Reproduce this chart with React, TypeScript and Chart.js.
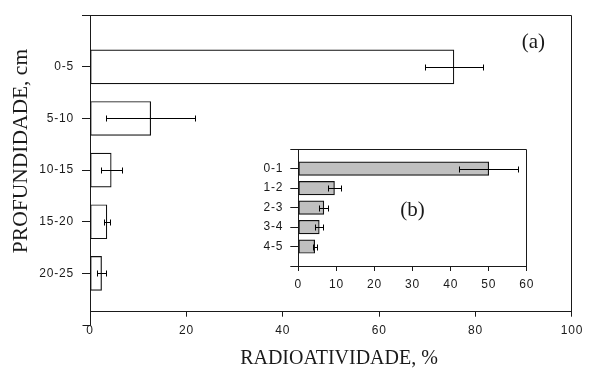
import React, { useEffect, useRef } from 'react';
import { Chart, registerables } from 'chart.js';

Chart.register(...registerables);

// ---- Data (main chart a) ----
const depthLabels = ['0-5', '5-10', '10-15', '15-20', '20-25'];
const depthValues = [75.5, 12.6, 4.4, 3.5, 2.4];
const depthErrors = [6.1, 9.2, 2.2, 0.65, 0.9];
const mainXMin = 0;
const mainXMax = 100;
const mainXStep = 20;

// ---- Data (inset b) ----
const insetLabels = ['0-1', '1-2', '2-3', '3-4', '4-5'];
const insetValues = [50, 9.5, 6.7, 5.5, 4.3];
const insetErrors = [7.8, 1.6, 1.2, 1.1, 0.55];
const insetXMin = 0;
const insetXMax = 60;
const insetXStep = 10;

const xTitle = 'RADIOATIVIDADE, %';
const yTitle = 'PROFUNDIDADE, cm';

const TICK_FONT = { family: '"Liberation Sans", Arial, sans-serif', size: 12 };
const SERIF = '"Liberation Serif", "Times New Roman", serif';
const INK = '#1a1a1a';

const spacing = {
  id: 'spacing',
  beforeDraw(chart: any) {
    (chart.ctx as any).letterSpacing = '0.8px';
  },
};

function errorBars(errors: number[]) {
  return {
    id: 'errorBars',
    afterDatasetsDraw(chart: any) {
      const meta = chart.getDatasetMeta(0);
      const xs = chart.scales.x;
      const data = chart.data.datasets[0].data as any[];
      const ctx = chart.ctx;
      ctx.save();
      ctx.strokeStyle = '#000';
      ctx.lineWidth = 1;
      meta.data.forEach((el: any, i: number) => {
        const v = data[i].x;
        const e = errors[i];
        const y = Math.round(el.y) + 0.5;
        const x1 = Math.round(xs.getPixelForValue(v - e)) + 0.5;
        const x2 = Math.round(xs.getPixelForValue(v + e)) + 0.5;
        ctx.beginPath();
        ctx.moveTo(x1, y);
        ctx.lineTo(x2, y);
        ctx.moveTo(x1, y - 3);
        ctx.lineTo(x1, y + 3);
        ctx.moveTo(x2, y - 3);
        ctx.lineTo(x2, y + 3);
        ctx.stroke();
      });
      ctx.restore();
    },
  };
}

function frame(extendTo: number | null, tickLen: number) {
  return {
    id: 'frame',
    afterDraw(chart: any) {
      const { ctx, chartArea } = chart;
      const ys = chart.scales.y;
      ctx.save();
      ctx.strokeStyle = INK;
      ctx.lineWidth = 1;
      const L = Math.round(chartArea.left) + 0.5;
      const R = Math.round(chartArea.right) - 0.5;
      const T = Math.round(chartArea.top) + 0.5;
      const B = Math.round(chartArea.bottom);
      ctx.beginPath();
      ctx.moveTo(L, T);
      ctx.lineTo(R, T);
      ctx.lineTo(R, B);
      if (extendTo !== null) {
        const yb = Math.round(ys.getPixelForValue(extendTo)) + 0.5;
        ctx.moveTo(L, B);
        ctx.lineTo(L, yb);
        ctx.moveTo(L - tickLen, yb);
        ctx.lineTo(L, yb);
      }
      ctx.stroke();
      ctx.restore();
    },
  };
}

function textLayer(label: string, lx: number, ly: number, withTitles: boolean) {
  return {
    id: 'textLayer',
    afterDraw(chart: any) {
      const { ctx } = chart;
      const xs = chart.scales.x;
      const ys = chart.scales.y;
      ctx.save();
      (ctx as any).letterSpacing = '0px';
      ctx.fillStyle = INK;
      ctx.textAlign = 'center';
      ctx.textBaseline = 'middle';
      ctx.font = `21px ${SERIF}`;
      ctx.fillText(label, xs.getPixelForValue(lx), ys.getPixelForValue(ly));
      if (withTitles) {
        ctx.font = `20px ${SERIF}`;
        ctx.fillText(xTitle, 339, 359);
        ctx.translate(21, 151);
        ctx.rotate(-Math.PI / 2);
        ctx.font = `21.5px ${SERIF}`;
        ctx.fillText(yTitle, 0, 0);
      }
      ctx.restore();
    },
  };
}

function makeConfig(opts: {
  labels: string[];
  values: number[];
  errors: number[];
  xMin: number;
  xMax: number;
  xStep: number;
  yMax: number;
  fill: string;
  thickness: number;
  yWidth: number;
  xHeight: number;
  padding: any;
  yTickPad: number;
  xTickPad: number;
  extendTo: number | null;
  label: string;
  lx: number;
  ly: number;
  titles: boolean;
}): any {
  return {
    type: 'bar',
    data: {
      datasets: [
        {
          data: opts.values.map((v, i) => ({ x: v, y: i + 1 })),
          backgroundColor: opts.fill,
          borderColor: '#111',
          borderWidth: 1.2,
          borderSkipped: false,
          barThickness: opts.thickness,
        },
      ],
    },
    options: {
      indexAxis: 'y',
      animation: false,
      responsive: false,
      devicePixelRatio: 1,
      layout: { padding: opts.padding },
      plugins: { legend: { display: false }, tooltip: { enabled: false } },
      scales: {
        x: {
          type: 'linear',
          min: opts.xMin,
          max: opts.xMax,
          position: 'bottom',
          offset: false,
          ticks: { stepSize: opts.xStep, color: INK, font: TICK_FONT, padding: opts.xTickPad, maxRotation: 0, autoSkip: false },
          grid: { drawOnChartArea: false, drawTicks: true, tickLength: 5, color: INK, lineWidth: 1, offset: false },
          border: { display: true, color: INK, width: 1 },
          afterFit: (s: any) => {
            s.height = opts.xHeight;
          },
        },
        y: {
          type: 'linear',
          min: 0,
          max: opts.yMax,
          reverse: true,
          offset: false,
          ticks: {
            stepSize: 1,
            includeBounds: false,
            autoSkip: false,
            color: INK,
            font: TICK_FONT,
            padding: opts.yTickPad,
            callback: (v: number) => opts.labels[v - 1] ?? '',
          },
          grid: { drawOnChartArea: false, drawTicks: true, tickLength: 8, color: INK, lineWidth: 1, offset: false },
          border: { display: true, color: INK, width: 1 },
          afterFit: (s: any) => {
            s.width = opts.yWidth;
          },
        },
      },
    },
    plugins: [spacing, errorBars(opts.errors), frame(opts.extendTo, 8), textLayer(opts.label, opts.lx, opts.ly, opts.titles)],
  };
}

export default function App() {
  const mainRef = useRef<HTMLCanvasElement>(null);
  const insetRef = useRef<HTMLCanvasElement>(null);

  useEffect(() => {
    const main = new Chart(
      mainRef.current as HTMLCanvasElement,
      makeConfig({
        labels: depthLabels,
        values: depthValues,
        errors: depthErrors,
        xMin: mainXMin,
        xMax: mainXMax,
        xStep: mainXStep,
        yMax: 5.742,
        fill: '#ffffff',
        thickness: 34,
        yWidth: 90,
        xHeight: 65.3,
        padding: { left: 0, top: 15, right: 11.3, bottom: 0 },
        yTickPad: 8,
        xTickPad: 7,
        extendTo: 6,
        label: '(a)',
        lx: 92,
        ly: 0.52,
        titles: true,
      })
    );
    const inset = new Chart(
      insetRef.current as HTMLCanvasElement,
      makeConfig({
        labels: insetLabels,
        values: insetValues,
        errors: insetErrors,
        xMin: insetXMin,
        xMax: insetXMax,
        xStep: insetXStep,
        yMax: 6,
        fill: '#c0c0c0',
        thickness: 13.5,
        yWidth: 68.3,
        xHeight: 29,
        padding: { left: 0, top: 8.3, right: 12.3, bottom: 0 },
        yTickPad: 7,
        xTickPad: 6.5,
        extendTo: null,
        label: '(b)',
        lx: 30,
        ly: 3.17,
        titles: false,
      })
    );
    return () => {
      main.destroy();
      inset.destroy();
    };
  }, []);

  return (
    <div style={{ position: 'fixed', left: 0, top: 0, width: 589, height: 377, background: '#fff' }}>
      <canvas ref={mainRef} width={589} height={377} style={{ position: 'absolute', left: 0, top: 0, width: 589, height: 377 }} />
      <canvas ref={insetRef} width={310} height={160} style={{ position: 'absolute', left: 230, top: 135, width: 310, height: 160 }} />
    </div>
  );
}
